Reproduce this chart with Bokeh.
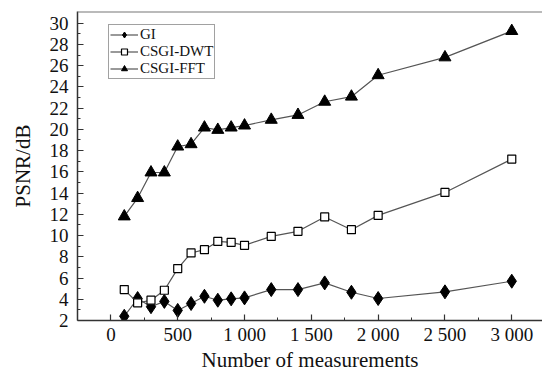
from bokeh.plotting import figure
from bokeh.models import Legend, LegendItem, Span, FixedTicker, Range1d
from bokeh.embed import file_html
from bokeh.resources import INLINE

measurements = [100, 200, 300, 400, 500, 600, 700, 800, 900, 1000, 1200, 1400, 1600, 1800, 2000, 2500, 3000]
gi = [2.4, 4.07, 3.3, 3.8, 2.95, 3.6, 4.28, 3.91, 4.04, 4.13, 4.91, 4.91, 5.54, 4.66, 4.07, 4.70, 5.70]
csgi_dwt = [4.91, 3.66, 3.91, 4.85, 6.89, 8.36, 8.67, 9.45, 9.36, 9.08, 9.92, 10.4, 11.75, 10.55, 11.9, 14.06, 17.2]
csgi_fft = [11.8, 13.53, 15.94, 15.94, 18.38, 18.6, 20.17, 19.95, 20.17, 20.36, 20.9, 21.36, 22.6, 23.08, 25.1, 26.78, 29.26]

x_ticks = [0, 500, 1000, 1500, 2000, 2500, 3000]
x_tick_labels = ["0", "500", "1 000", "1 500", "2 000", "2 500", "3 000"]
y_ticks = [2, 4, 6, 8, 10, 12, 14, 16, 18, 20, 22, 24, 26, 28, 30]

FONT = "Liberation Serif"
Y_TOP = 31.1

p = figure(width=542, height=374, output_backend="svg", toolbar_location=None,
           x_range=Range1d(-250, 3230), y_range=Range1d(2, Y_TOP),
           min_border_left=77, min_border_right=0, min_border_top=11, min_border_bottom=53)
p.outline_line_color = None
p.grid.visible = False
p.background_fill_color = "white"
p.border_fill_color = "white"

line_color = "#555555"
r1l = p.line(measurements, gi, line_color=line_color, line_width=1.2)
r1m = p.scatter(measurements, gi, marker="diamond", size=14, fill_color="black", line_color="black")
r2l = p.line(measurements, csgi_dwt, line_color=line_color, line_width=1.2)
r2m = p.scatter(measurements, csgi_dwt, marker="square", size=8, fill_color="white", line_color="black", line_width=1.2)
r3l = p.line(measurements, csgi_fft, line_color=line_color, line_width=1.2)
r3m = p.scatter(measurements, csgi_fft, marker="triangle", size=12, fill_color="black", line_color="black")

top_line = Span(location=Y_TOP, dimension="width", line_color="#777777", line_width=2)
p.add_layout(top_line)

# axes
for ax in (p.xaxis[0], p.yaxis[0]):
    ax.axis_line_color = "#333333"
    ax.axis_line_width = 1.5
    ax.major_tick_line_color = "#333333"
    ax.minor_tick_line_color = "#333333"
    ax.major_tick_line_width = 1.2
    ax.minor_tick_line_width = 1.0
    ax.major_tick_out = 0
    ax.major_tick_in = 6
    ax.minor_tick_out = 0
    ax.minor_tick_in = 3
    ax.major_label_text_font = FONT
    ax.major_label_text_font_size = "19px"
    ax.major_label_text_color = "#111111"
    ax.axis_label_text_font = FONT
    ax.axis_label_text_font_size = "21px"
    ax.axis_label_text_font_style = "normal"
    ax.axis_label_text_color = "#111111"

p.xaxis.ticker = FixedTicker(ticks=x_ticks, minor_ticks=[250 + 500 * i for i in range(6)])
p.xaxis.major_label_overrides = {t: l for t, l in zip(x_ticks, x_tick_labels)}
p.xaxis.major_label_standoff = 3
p.xaxis.axis_label = "Number of measurements"
p.xaxis.axis_label_standoff = 0

p.yaxis.ticker = FixedTicker(ticks=y_ticks, minor_ticks=[v + 1 for v in y_ticks[:-1]])
p.yaxis.major_label_standoff = 9
p.yaxis.axis_label = "PSNR/dB"
p.yaxis.axis_label_standoff = 12

legend = Legend(items=[
    LegendItem(label="GI", renderers=[r1l, r1m]),
    LegendItem(label="CSGI-DWT", renderers=[r2l, r2m]),
    LegendItem(label="CSGI-FFT", renderers=[r3l, r3m]),
], location=(31, 241))
legend.label_text_font = FONT
legend.label_text_font_size = "15px"
legend.label_text_color = "#111111"
legend.glyph_width = 28
legend.glyph_height = 15
legend.label_height = 15
legend.label_standoff = 2
legend.spacing = 0
legend.padding = 1
legend.margin = 0
legend.border_line_color = "#444444"
legend.border_line_width = 1.5
legend.background_fill_alpha = 1
p.add_layout(legend, "center")

open("out.html", "w").write(file_html(p, INLINE))
